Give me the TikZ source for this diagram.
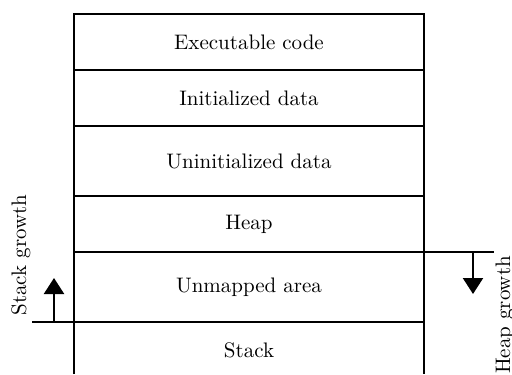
\documentclass[tikz,border=0pt]{standalone}
\usetikzlibrary{arrows.meta}
\begin{document}
\begin{tikzpicture}[x=0.5pt,y=-0.5pt,
  seg/.style={line width=0.9pt},
  lbl/.style={inner sep=0pt,font=\fontsize{10.5pt}{12pt}\selectfont},
  growarrow/.style={line width=1.1pt,-{Triangle[length=8pt,width=10pt]}}]
\useasboundingbox (0,0) rectangle (512,374);
% box outline
\draw[seg] (74,374) -- (74,14) -- (424,14) -- (424,374);
\draw[seg] (74,70) -- (424,70);
\draw[seg] (74,126) -- (424,126);
\draw[seg] (74,196) -- (424,196);
\draw[seg] (74,252) -- (494,252);
\draw[seg] (32,322) -- (424,322);
% texts
\node[lbl] (exe) at (249,42) {Executable code};
\node[lbl] (init) at (249,98) {Initialized data};
\node[lbl] (uninit) at (249,161) {Uninitialized data};
\node[lbl] (heap) at (249,224) {Heap};
\node[lbl] (unmap) at (249,287) {Unmapped area};
\node[lbl] (stack) at (249,350) {Stack};
% growth arrows
\coordinate (sa) at (54,322);
\coordinate (sb) at (54,278);
\coordinate (ha) at (473,252);
\coordinate (hb) at (473,294);
\draw[growarrow] (sa) -- (sb);
\draw[growarrow] (ha) -- (hb);
\node[lbl,rotate=90] (sg) at (21,255) {Stack growth};
\node[lbl,rotate=90] (hg) at (505,315) {Heap growth};
\end{tikzpicture}
\end{document}
